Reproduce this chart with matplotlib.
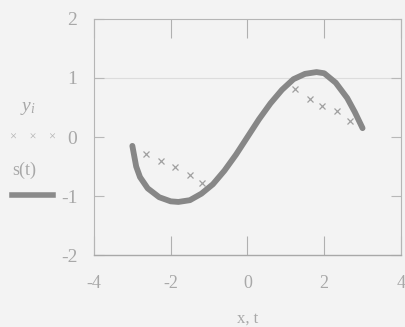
import numpy as np
import matplotlib.pyplot as plt

plt.rcParams['font.family'] = ['Liberation Serif', 'DejaVu Serif']
plt.rcParams['mathtext.fontset'] = 'custom'
plt.rcParams['mathtext.it'] = 'Liberation Serif:italic'
plt.rcParams['mathtext.rm'] = 'Liberation Serif'

t_vals = [-3.0, -2.9, -2.8, -2.6, -2.3, -2.0, -1.8, -1.5, -1.2, -0.9, -0.6, -0.3,
          0.0, 0.3, 0.6, 0.9, 1.2, 1.5, 1.8, 2.0, 2.3, 2.6, 2.8, 3.0]
s_vals = [-0.15, -0.50, -0.68, -0.87, -1.02, -1.09, -1.10, -1.07, -0.96, -0.80, -0.57, -0.30,
          0.0, 0.30, 0.57, 0.80, 0.98, 1.07, 1.10, 1.08, 0.92, 0.66, 0.42, 0.15]
x_pts = [-2.65, -2.26, -1.89, -1.50, -1.19, 1.23, 1.63, 1.94, 2.33, 2.67]
y_pts = [-0.29, -0.41, -0.51, -0.64, -0.78, 0.81, 0.64, 0.53, 0.44, 0.27]

x_ticks = [-4, -2, 0, 2, 4]
y_ticks = [-2, -1, 0, 1, 2]

txt = "#a8a8a8"
bg = "#f3f3f3"

fig = plt.figure(figsize=(4.06, 3.27), dpi=100, facecolor=bg)
ax = fig.add_axes([0.2315, 0.22, 0.756, 0.722], facecolor=bg)

ax.plot(t_vals, s_vals, color="#878787", linewidth=4.2, solid_capstyle="round", zorder=3)
ax.plot(x_pts, y_pts, linestyle="none", marker="x", markersize=4, markeredgewidth=0.9,
        color="#a0a0a0", zorder=2)

ax.set_xlim(-4, 4)
ax.set_ylim(-2, 2)

# 枠線（点線）と下軸（実線）
for side in ["top", "left", "right"]:
    ax.spines[side].set_linestyle((0, (1, 1)))
    ax.spines[side].set_color("#b5b5b5")
    ax.spines[side].set_linewidth(0.8)
ax.spines["bottom"].set_color("#a8a8a8")
ax.spines["bottom"].set_linewidth(1.0)

ax.set_xticks(x_ticks)
ax.set_yticks(y_ticks)
ax.tick_params(axis="x", direction="in", length=14, color="#b0b0b0", labelsize=13,
               labelcolor=txt, pad=14, top=True)
ax.tick_params(axis="y", direction="in", length=7, color="#b8b8b8", labelsize=14,
               labelcolor=txt, pad=12, right=True)
ax.set_xticklabels([str(v) for v in x_ticks])
ax.set_yticklabels([str(v) for v in y_ticks])

# 横方向の薄い線 (y=1 付近)
ax.axhline(1, color="#dcdcdc", linewidth=0.8, zorder=1)

# 凡例（左側）
fig.text(0.05, 0.66, r"$y_i$", color=txt, fontsize=14)
fig.text(0.025, 0.572, "×    ×    ×", color="#b0b0b0", fontsize=9)
fig.text(0.03, 0.465, "s(t)", color=txt, fontsize=13)
fig.add_artist(plt.Line2D([0.03, 0.13], [0.405, 0.405], color="#8a8a8a", linewidth=4,
                          transform=fig.transFigure))

ax.set_xlabel("x, t", color=txt, fontsize=12, labelpad=14)

plt.savefig("out.png", dpi=100, facecolor=bg)
